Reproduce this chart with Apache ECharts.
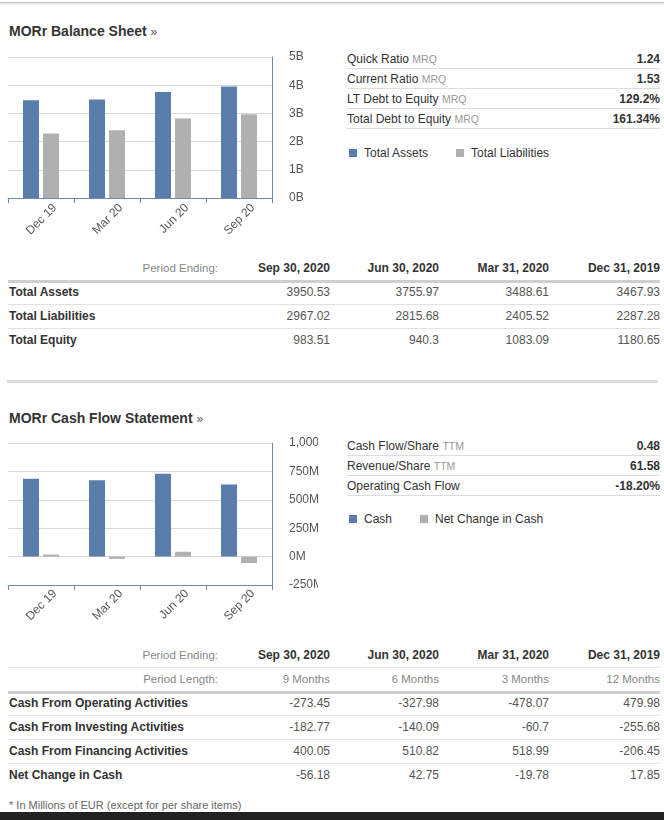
<!DOCTYPE html>
<html><head><meta charset="utf-8">
<script src="https://cdn.jsdelivr.net/npm/echarts@6/dist/echarts.min.js"></script>
<style>
body{margin:0;width:664px;height:820px;position:relative;overflow:hidden;background:#fff;font-family:"Liberation Sans",Arial,sans-serif;color:#333}
.abs{position:absolute}
.title{position:absolute;left:9px;font-size:14px;font-weight:bold;color:#333;line-height:16px;white-space:nowrap}
.title span{font-weight:normal;color:#555;font-size:12px}
.stats{position:absolute;left:347px;width:313px}
.srow{height:19px;border-bottom:1px solid #ddd;line-height:20px;font-size:12px;position:relative;white-space:nowrap}
.srow .sub{color:#999;font-size:10.5px}
.srow .val{position:absolute;right:0;top:0;font-weight:bold;color:#333}
.legend{position:absolute;left:349px;font-size:12px;line-height:14px;white-space:nowrap;color:#333}
.sq{display:inline-block;width:8px;height:8px;margin-right:7px;vertical-align:0px}
.cell{position:absolute;font-size:12px;line-height:16px;white-space:nowrap;color:#555}
.lab{left:9px;font-weight:bold;color:#333}
.hdr{font-weight:bold;color:#333}
.pe{color:#888;font-size:11.5px}
.line{position:absolute;left:8px;width:652px;height:1px;background:#e2e2e2}
.thick{position:absolute;left:8px;width:652px;height:3px;background:#cfcfcf}
</style></head>
<body>
<div class="abs" style="left:0;top:2px;width:664px;height:1px;background:#bdbdbd"></div>
<div class="abs" style="left:0;top:3px;width:664px;height:3px;background:linear-gradient(#e6e6e6,#fff)"></div>

<div class="title" style="top:23px">MORr Balance Sheet <span>»</span></div>
<div id="c1" class="abs" style="left:0;top:40px;width:330px;height:200px"></div>
<div id="s1" class="stats" style="top:49px"></div>
<div id="l1" class="legend" style="top:146px"></div>
<div id="t1"></div>

<div class="abs" style="left:7px;top:380px;width:651px;height:3px;background:#dcdcdc"></div>

<div class="title" style="top:410px">MORr Cash Flow Statement <span>»</span></div>
<div class="abs" style="left:0;top:425px;width:318px;height:200px;overflow:hidden">
  <div id="c2" class="abs" style="left:0;top:0;width:330px;height:200px"></div>
</div>
<div id="s2" class="stats" style="top:436px"></div>
<div id="l2" class="legend" style="top:512px"></div>
<div id="t2"></div>

<div class="cell" style="left:9px;top:797px;font-size:11px;color:#666">* In Millions of EUR (except for per share items)</div>
<div class="abs" style="left:0;top:812px;width:664px;height:8px;background:#222"></div>

<script>
// ---- data ----
const categories = ['Dec 19', 'Mar 20', 'Jun 20', 'Sep 20'];
const totalAssetsSeries = [3467.93, 3488.61, 3755.97, 3950.53];
const totalLiabilitiesSeries = [2287.28, 2405.52, 2815.68, 2967.02];
const cashSeries = [686, 671, 730, 634];
const netChangeSeries = [17.85, -19.78, 42.75, -56.18];

const bsStats = [
  ['Quick Ratio', 'MRQ', '1.24'],
  ['Current Ratio', 'MRQ', '1.53'],
  ['LT Debt to Equity', 'MRQ', '129.2%'],
  ['Total Debt to Equity', 'MRQ', '161.34%']
];
const cfStats = [
  ['Cash Flow/Share', 'TTM', '0.48'],
  ['Revenue/Share', 'TTM', '61.58'],
  ['Operating Cash Flow', '', '-18.20%']
];

const periodEnding = ['Sep 30, 2020', 'Jun 30, 2020', 'Mar 31, 2020', 'Dec 31, 2019'];
const periodLength = ['9 Months', '6 Months', '3 Months', '12 Months'];
const totalAssets = [3950.53, 3755.97, 3488.61, 3467.93];
const totalLiabilities = [2967.02, 2815.68, 2405.52, 2287.28];
const totalEquity = [983.51, 940.3, 1083.09, 1180.65];
const cashOperating = [-273.45, -327.98, -478.07, 479.98];
const cashInvesting = [-182.77, -140.09, -60.7, -255.68];
const cashFinancing = [400.05, 510.82, 518.99, -206.45];
const netChangeInCash = [-56.18, 42.75, -19.78, 17.85];

const BLUE = '#5a7eab', GRAY = '#b0b0b0', AXIS = '#6f8cb0';
const colRight = [330, 439, 549, 660];

// ---- stats / legends ----
function stats(id, rows) {
  const el = document.getElementById(id);
  rows.forEach(r => {
    const d = document.createElement('div');
    d.className = 'srow';
    d.innerHTML = r[0] + (r[1] ? ' <span class="sub">' + r[1] + '</span>' : '') + '<span class="val">' + r[2] + '</span>';
    el.appendChild(d);
  });
}
stats('s1', bsStats); stats('s2', cfStats);
function legend(id, items) {
  document.getElementById(id).innerHTML = items.map((it, i) =>
    '<span style="display:inline-block;margin-right:' + (i === 0 ? 28 : 0) + 'px"><span class="sq" style="background:' + it[1] + '"></span>' + it[0] + '</span>').join('');
}
legend('l1', [['Total Assets', BLUE], ['Total Liabilities', GRAY]]);
legend('l2', [['Cash', BLUE], ['Net Change in Cash', GRAY]]);

// ---- tables ----
function cell(parent, text, cls, y, right, left) {
  const d = document.createElement('div');
  d.className = 'cell ' + cls;
  d.textContent = text;
  d.style.top = (y - 8) + 'px';
  if (right != null) d.style.right = (664 - right) + 'px';
  if (left != null) d.style.left = left + 'px';
  parent.appendChild(d);
}
function hline(parent, y, cls) {
  const d = document.createElement('div');
  d.className = cls; d.style.top = y + 'px'; parent.appendChild(d);
}
function table(id, y0, headerRows, rows) {
  const el = document.getElementById(id);
  let y = y0;
  headerRows.forEach((h, i) => {
    cell(el, h[0], 'pe', y, 218);
    h[1].forEach((v, j) => cell(el, v, h[2], y, colRight[j]));
    if (i < headerRows.length - 1) hline(el, y + 12, 'line');
    y += 24;
  });
  hline(el, y - 12, 'thick');
  rows.forEach((r, i) => {
    cell(el, r[0], 'lab', y, null, 9);
    r[1].forEach((v, j) => cell(el, String(v), '', y, colRight[j]));
    if (i < rows.length - 1) hline(el, y + 12, 'line');
    y += 24;
  });
}
table('t1', 268, [['Period Ending:', periodEnding, 'hdr']], [
  ['Total Assets', totalAssets], ['Total Liabilities', totalLiabilities], ['Total Equity', totalEquity]
]);
table('t2', 655, [['Period Ending:', periodEnding, 'hdr'], ['Period Length:', periodLength, 'pe']], [
  ['Cash From Operating Activities', cashOperating], ['Cash From Investing Activities', cashInvesting],
  ['Cash From Financing Activities', cashFinancing], ['Net Change in Cash', netChangeInCash]
]);

// ---- charts ----
function chartOption(top, height, min, max, interval, fmt, s1, s2) {
  return {
    animation: false,
    textStyle: { fontFamily: 'Liberation Sans, Arial, sans-serif' },
    grid: [
      { left: 8, top: top, width: 264, height: height },
      { left: 22, top: top, width: 264, height: height }
    ],
    xAxis: [
      { type: 'category', gridIndex: 0, data: categories,
        axisLine: { onZero: false, lineStyle: { color: AXIS, width: 1 } },
        axisTick: { show: true, length: 5, lineStyle: { color: AXIS } },
        axisLabel: { show: false }, splitLine: { show: false } },
      { type: 'category', gridIndex: 1, data: categories,
        axisLine: { show: false }, axisTick: { show: false },
        axisLabel: { interval: 0, rotate: 45, fontSize: 12, color: '#555', margin: 8 } }
    ],
    yAxis: [
      { type: 'value', gridIndex: 0, position: 'right', min: min, max: max, interval: interval,
        axisLine: { show: true, lineStyle: { color: AXIS } }, axisTick: { show: false },
        splitLine: { lineStyle: { color: '#d9d9d9' } },
        axisLabel: { formatter: fmt, margin: 17, fontSize: 12, color: '#555' } },
      { type: 'value', gridIndex: 1, show: false, min: min, max: max }
    ],
    series: [
      { type: 'bar', data: s1, barWidth: 16, barGap: '25%', itemStyle: { color: BLUE } },
      { type: 'bar', data: s2, barWidth: 16, barGap: '25%', itemStyle: { color: GRAY } }
    ]
  };
}
echarts.init(document.getElementById('c1'), null, { renderer: 'canvas' }).setOption(
  chartOption(17, 141, 0, 5000, 1000, v => (v / 1000) + 'B', totalAssetsSeries, totalLiabilitiesSeries));
echarts.init(document.getElementById('c2'), null, { renderer: 'canvas' }).setOption(
  chartOption(18, 142, -250, 1000, 250, v => v === 1000 ? '1,000' : v + 'M', cashSeries, netChangeSeries));
</script>
</body></html>
